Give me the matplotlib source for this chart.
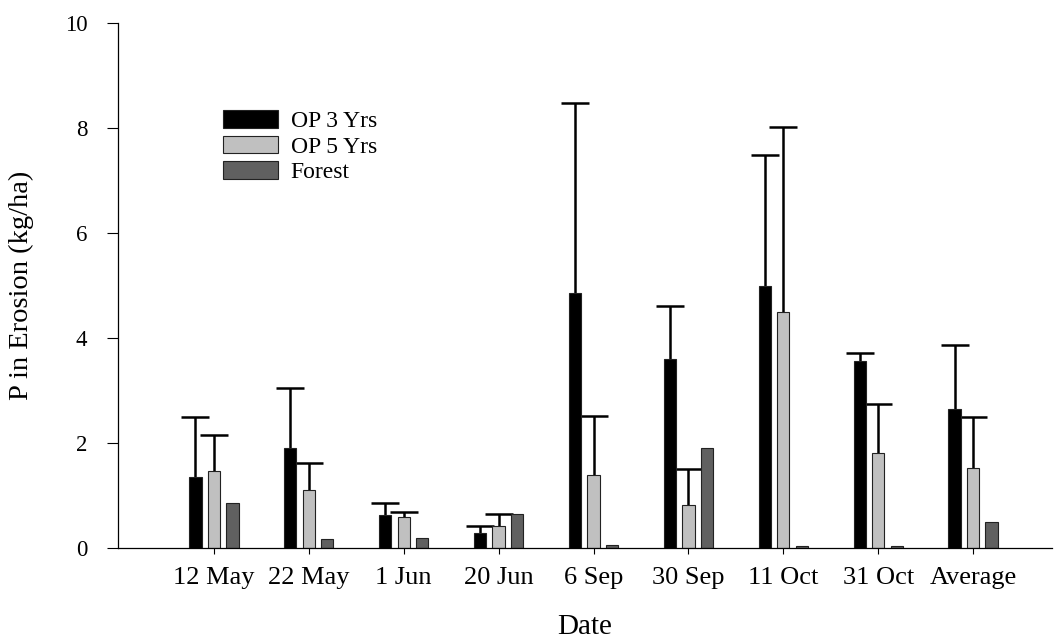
import numpy as np
import matplotlib
matplotlib.use('Agg')
import matplotlib.pyplot as plt

plt.rcParams['font.family'] = ['Liberation Serif', 'DejaVu Serif']

DATES = ["12 May", "22 May", "1 Jun", "20 Jun", "6 Sep", "30 Sep", "11 Oct", "31 Oct", "Average"]

# means and upper error (SE)
OP3 = [1.35, 1.90, 0.63, 0.29, 4.86, 3.60, 4.99, 3.57, 2.65]
OP3_ERR = [1.15, 1.15, 0.22, 0.13, 3.62, 1.01, 2.50, 0.15, 1.22]
OP5 = [1.47, 1.10, 0.59, 0.42, 1.39, 0.82, 4.50, 1.81, 1.52]
OP5_ERR = [0.68, 0.52, 0.09, 0.23, 1.12, 0.68, 3.52, 0.93, 0.97]
FOREST = [0.86, 0.17, 0.20, 0.65, 0.06, 1.90, 0.03, 0.03, 0.50]

SERIES = [
    ("OP 3 Yrs", OP3, OP3_ERR, "#000000"),
    ("OP 5 Yrs", OP5, OP5_ERR, "#c0c0c0"),
    ("Forest", FOREST, None, "#606060"),
]

fig = plt.figure(figsize=(10.54, 6.42), dpi=100)
ax = fig.add_axes([0.112, 0.1464, 0.886, 0.8176])

x = np.arange(len(DATES))
width = 0.13
offset = 0.195
for i, (label, vals, err, color) in enumerate(SERIES):
    pos = x + (i - 1) * offset
    ax.bar(pos, vals, width, color=color, edgecolor='#222222', linewidth=0.8,
           label=label, zorder=2)
    if err is not None:
        eb = ax.errorbar(pos, vals, yerr=[np.zeros(len(vals)), err], fmt='none',
                         ecolor='black', elinewidth=1.8, capsize=10, capthick=1.8,
                         zorder=1)
        # only the upper cap, like the original
        eb[1][0].set_visible(False)

ax.set_xlim(-1.01, 8.83)
ax.set_ylim(0, 10)
ax.set_yticks([0, 2, 4, 6, 8, 10])
ax.set_xticks(x)
ax.set_xticklabels(DATES)
ax.tick_params(axis='y', direction='out', length=8, width=0.8, labelsize=16.5, pad=14)
ax.tick_params(axis='x', direction='out', length=4, width=0.8, labelsize=19, pad=10)
ax.spines['top'].set_visible(False)
ax.spines['right'].set_visible(False)
ax.spines['left'].set_linewidth(0.9)
ax.spines['bottom'].set_linewidth(0.9)

ax.set_ylabel("P in Erosion (kg/ha)", fontsize=20.5, labelpad=22)
ax.set_xlabel("Date", fontsize=21, labelpad=18)

ax.legend(loc='upper left', bbox_to_anchor=(0.112, 0.834), frameon=False,
          fontsize=17, handlelength=2.33, handleheight=0.76, labelspacing=0.15,
          handletextpad=0.55, borderaxespad=0, borderpad=0)

fig.savefig("out.png", dpi=100)
